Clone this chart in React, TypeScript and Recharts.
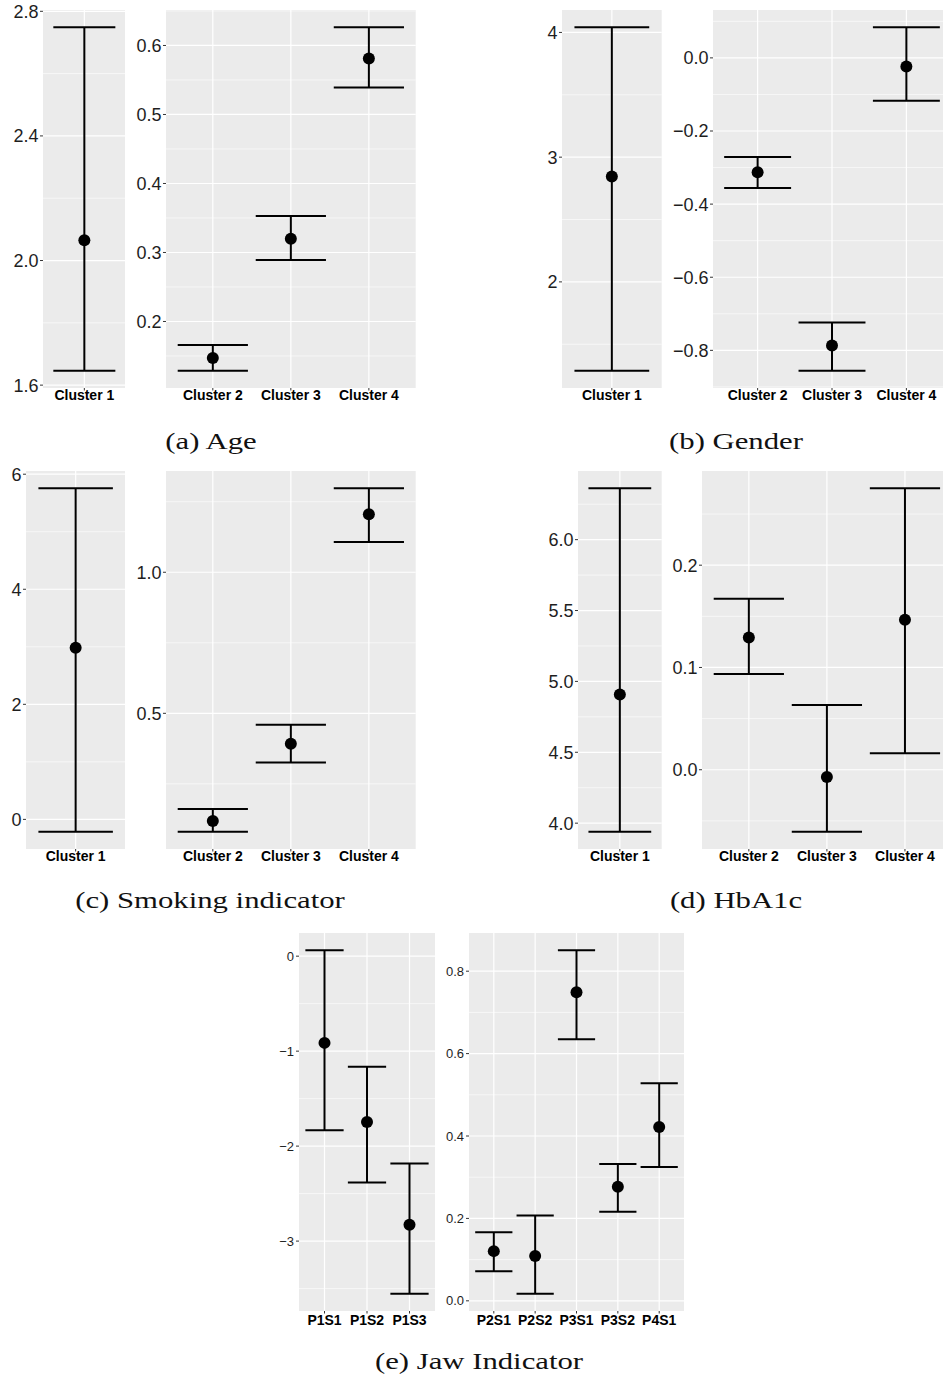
import React from "react";
import { ScatterChart, Scatter, XAxis, YAxis, CartesianGrid, ErrorBar } from "recharts";

// ---------- DATA ----------
// (a) Age
const ageLeftCats = ["Cluster 1"];
const ageLeftMean = [2.065];
const ageLeftLow = [1.646];
const ageLeftHigh = [2.749];
const ageLeftTicks = [1.6, 2.0, 2.4, 2.8];
const ageLeftTickLabels = ["1.6", "2.0", "2.4", "2.8"];
const ageLeftMinor = [1.8, 2.2, 2.6];

const ageRightCats = ["Cluster 2", "Cluster 3", "Cluster 4"];
const ageRightMean = [0.147, 0.32, 0.581];
const ageRightLow = [0.1285, 0.289, 0.539];
const ageRightHigh = [0.166, 0.353, 0.6265];
const ageRightTicks = [0.2, 0.3, 0.4, 0.5, 0.6];
const ageRightTickLabels = ["0.2", "0.3", "0.4", "0.5", "0.6"];
const ageRightMinor = [0.15, 0.25, 0.35, 0.45, 0.55, 0.65];

// (b) Gender
const genderLeftCats = ["Cluster 1"];
const genderLeftMean = [2.845];
const genderLeftLow = [1.287];
const genderLeftHigh = [4.042];
const genderLeftTicks = [2, 3, 4];
const genderLeftTickLabels = ["2", "3", "4"];
const genderLeftMinor = [1.5, 2.5, 3.5];

const genderRightCats = ["Cluster 2", "Cluster 3", "Cluster 4"];
const genderRightMean = [-0.313, -0.787, -0.0235];
const genderRightLow = [-0.356, -0.856, -0.117];
const genderRightHigh = [-0.271, -0.724, 0.084];
const genderRightTicks = [-0.8, -0.6, -0.4, -0.2, 0.0];
const genderRightTickLabels = ["\u22120.8", "\u22120.6", "\u22120.4", "\u22120.2", "0.0"];
const genderRightMinor = [-0.9, -0.7, -0.5, -0.3, -0.1, 0.1];

// (c) Smoking indicator
const smokeLeftCats = ["Cluster 1"];
const smokeLeftMean = [2.984];
const smokeLeftLow = [-0.216];
const smokeLeftHigh = [5.757];
const smokeLeftTicks = [0, 2, 4, 6];
const smokeLeftTickLabels = ["0", "2", "4", "6"];
const smokeLeftMinor = [1, 3, 5];

const smokeRightCats = ["Cluster 2", "Cluster 3", "Cluster 4"];
const smokeRightMean = [0.118, 0.392, 1.206];
const smokeRightLow = [0.08, 0.326, 1.107];
const smokeRightHigh = [0.1606, 0.4596, 1.298];
const smokeRightTicks = [0.5, 1.0];
const smokeRightTickLabels = ["0.5", "1.0"];
const smokeRightMinor = [0.25, 0.75, 1.25];

// (d) HbA1c
const hbLeftCats = ["Cluster 1"];
const hbLeftMean = [4.908];
const hbLeftLow = [3.939];
const hbLeftHigh = [6.363];
const hbLeftTicks = [4.0, 4.5, 5.0, 5.5, 6.0];
const hbLeftTickLabels = ["4.0", "4.5", "5.0", "5.5", "6.0"];
const hbLeftMinor = [4.25, 4.75, 5.25, 5.75, 6.25];

const hbRightCats = ["Cluster 2", "Cluster 3", "Cluster 4"];
const hbRightMean = [0.1294, -0.0071, 0.1466];
const hbRightLow = [0.0937, -0.0607, 0.016];
const hbRightHigh = [0.1673, 0.0633, 0.2753];
const hbRightTicks = [0.0, 0.1, 0.2];
const hbRightTickLabels = ["0.0", "0.1", "0.2"];
const hbRightMinor = [-0.05, 0.05, 0.15, 0.25];

// (e) Jaw Indicator
const jawLeftCats = ["P1S1", "P1S2", "P1S3"];
const jawLeftMean = [-0.913, -1.746, -2.828];
const jawLeftLow = [-1.832, -2.382, -3.555];
const jawLeftHigh = [0.063, -1.165, -2.182];
const jawLeftTicks = [-3, -2, -1, 0];
const jawLeftTickLabels = ["\u22123", "\u22122", "\u22121", "0"];
const jawLeftMinor = [-3.5, -2.5, -1.5, -0.5];

const jawRightCats = ["P2S1", "P2S2", "P3S1", "P3S2", "P4S1"];
const jawRightMean = [0.1206, 0.109, 0.749, 0.2767, 0.422];
const jawRightLow = [0.072, 0.017, 0.635, 0.216, 0.325];
const jawRightHigh = [0.1667, 0.2073, 0.851, 0.332, 0.528];
const jawRightTicks = [0.0, 0.2, 0.4, 0.6, 0.8];
const jawRightTickLabels = ["0.0", "0.2", "0.4", "0.6", "0.8"];
const jawRightMinor = [0.1, 0.3, 0.5, 0.7];

const captions = ["(a) Age", "(b) Gender", "(c) Smoking indicator", "(d) HbA1c", "(e) Jaw Indicator"];

// ---------- STYLE / LAYOUT ----------
const SANS = "'Liberation Sans', Arial, Helvetica, sans-serif";
const SERIF = "'Liberation Serif', 'Times New Roman', serif";
const YW = 60;
const XH = 30;
const TOPPAD = 14;

type PanelProps = {
  cats: string[];
  mean: number[];
  low: number[];
  high: number[];
  ticks: number[];
  tickLabels: string[];
  minor: number[];
  x: number;
  y: number;
  w: number;
  h: number;
  yFont: number;
  yGap: number;
  xGap: number;
};

function Panel(p: PanelProps) {
  const n = p.cats.length;
  const positions = p.cats.map((_, i) => i + 1);
  const data = p.cats.map((c, i) => ({
    pos: i + 1,
    name: c,
    mean: p.mean[i],
    err: [p.mean[i] - p.low[i], p.high[i] - p.mean[i]],
  }));
  const lo = Math.min(...p.low);
  const hi = Math.max(...p.high);
  const r = hi - lo;
  const domain: [number, number] = [lo - 0.05 * r, hi + 0.05 * r];
  const minor = p.minor.filter((v) => v > domain[0] && v < domain[1]);
  const capHalf = (0.45 * p.w) / (n + 0.2);
  return (
    <div
      style={{
        position: "absolute",
        left: p.x - YW,
        top: p.y - TOPPAD,
        width: p.w + YW,
        height: p.h + XH + TOPPAD,
      }}
    >
      <ScatterChart
        width={p.w + YW}
        height={p.h + XH + TOPPAD}
        margin={{ top: TOPPAD, right: 0, bottom: 0, left: 0 }}
      >
        <CartesianGrid
          fill="#EBEBEB"
          fillOpacity={1}
          stroke="#FFFFFF"
          strokeWidth={0.6}
          vertical={false}
          horizontalValues={minor}
        />
        <CartesianGrid
          stroke="#FFFFFF"
          strokeWidth={1.2}
          horizontalValues={p.ticks}
          verticalValues={positions}
        />
        <XAxis
          type="number"
          dataKey="pos"
          domain={[0.4, n + 0.6]}
          ticks={positions}
          interval={0}
          allowDataOverflow
          axisLine={false}
          tickSize={2.5}
          tickMargin={p.xGap}
          height={XH}
          tickLine={{ stroke: "#333333" }}
          tick={{ fontSize: 14, fontWeight: 700, fill: "#000000", fontFamily: SANS }}
          tickFormatter={(v: number) => p.cats[v - 1]}
        />
        <YAxis
          type="number"
          dataKey="mean"
          domain={domain}
          allowDataOverflow
          ticks={p.ticks}
          interval={0}
          width={YW}
          axisLine={false}
          tickSize={3}
          tickMargin={p.yGap}
          tickLine={{ stroke: "#333333" }}
          tick={{ fontSize: p.yFont, fill: "#1e1e1e", fontFamily: SANS }}
          tickFormatter={(v: number) => p.tickLabels[p.ticks.indexOf(v)]}
        />
        <Scatter
          data={data}
          dataKey="mean"
          isAnimationActive={false}
          shape={(s: any) => <circle cx={s.cx} cy={s.cy} r={6} fill="#000000" />}
        >
          <ErrorBar
            dataKey="err"
            direction="y"
            width={capHalf}
            stroke="#000000"
            strokeWidth={2}
            isAnimationActive={false}
          />
        </Scatter>
      </ScatterChart>
    </div>
  );
}

function Caption({ text, cx, top }: { text: string; cx: number; top: number }) {
  return (
    <div
      style={{
        position: "absolute",
        left: cx - 200,
        top,
        width: 400,
        textAlign: "center",
        fontFamily: SERIF,
        fontSize: 24,
        lineHeight: "24px",
        color: "#111",
        whiteSpace: "pre",
        transform: "scaleX(1.28)",
        transformOrigin: "center",
      }}
    >
      {text}
    </div>
  );
}

export default function App() {
  const row1 = { y: 9.5, h: 378, yFont: 18, yGap: 1.5, xGap: 0 };
  const row2 = { y: 471, h: 378, yFont: 18, yGap: 1.5, xGap: 0 };
  const row3 = { y: 932.5, h: 378, yFont: 13, yGap: 2, xGap: 1.5 };
  return (
    <div
      style={{
        position: "absolute",
        left: 0,
        top: 0,
        width: 943,
        height: 1379,
        overflow: "hidden",
        background: "#ffffff",
      }}
    >
      <Panel cats={ageLeftCats} mean={ageLeftMean} low={ageLeftLow} high={ageLeftHigh} ticks={ageLeftTicks} tickLabels={ageLeftTickLabels} minor={ageLeftMinor} x={42.6} w={82.7} {...row1} />
      <Panel cats={ageRightCats} mean={ageRightMean} low={ageRightLow} high={ageRightHigh} ticks={ageRightTicks} tickLabels={ageRightTickLabels} minor={ageRightMinor} x={166} w={249.7} {...row1} />
      <Panel cats={genderLeftCats} mean={genderLeftMean} low={genderLeftLow} high={genderLeftHigh} ticks={genderLeftTicks} tickLabels={genderLeftTickLabels} minor={genderLeftMinor} x={562} w={99.7} {...row1} />
      <Panel cats={genderRightCats} mean={genderRightMean} low={genderRightLow} high={genderRightHigh} ticks={genderRightTicks} tickLabels={genderRightTickLabels} minor={genderRightMinor} x={713.3} w={238} {...row1} />

      <Panel cats={smokeLeftCats} mean={smokeLeftMean} low={smokeLeftLow} high={smokeLeftHigh} ticks={smokeLeftTicks} tickLabels={smokeLeftTickLabels} minor={smokeLeftMinor} x={26} w={99.3} {...row2} />
      <Panel cats={smokeRightCats} mean={smokeRightMean} low={smokeRightLow} high={smokeRightHigh} ticks={smokeRightTicks} tickLabels={smokeRightTickLabels} minor={smokeRightMinor} x={166} w={249.7} {...row2} />
      <Panel cats={hbLeftCats} mean={hbLeftMean} low={hbLeftLow} high={hbLeftHigh} ticks={hbLeftTicks} tickLabels={hbLeftTickLabels} minor={hbLeftMinor} x={578} w={83.7} {...row2} />
      <Panel cats={hbRightCats} mean={hbRightMean} low={hbRightLow} high={hbRightHigh} ticks={hbRightTicks} tickLabels={hbRightTickLabels} minor={hbRightMinor} x={702} w={249.8} {...row2} />

      <Panel cats={jawLeftCats} mean={jawLeftMean} low={jawLeftLow} high={jawLeftHigh} ticks={jawLeftTicks} tickLabels={jawLeftTickLabels} minor={jawLeftMinor} x={299} w={136} {...row3} />
      <Panel cats={jawRightCats} mean={jawRightMean} low={jawRightLow} high={jawRightHigh} ticks={jawRightTicks} tickLabels={jawRightTickLabels} minor={jawRightMinor} x={469} w={215} {...row3} />

      <Caption text={captions[0]} cx={210.8} top={428.6} />
      <Caption text={captions[1]} cx={736} top={428.6} />
      <Caption text={captions[2]} cx={209.5} top={888.2} />
      <Caption text={captions[3]} cx={736} top={888.2} />
      <Caption text={captions[4]} cx={479.2} top={1349.2} />
    </div>
  );
}
